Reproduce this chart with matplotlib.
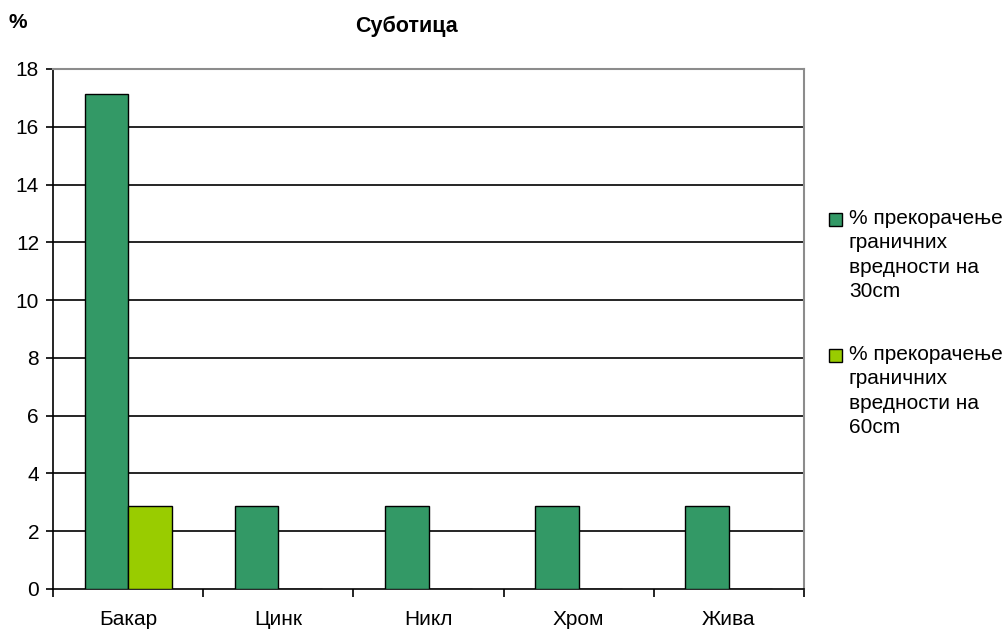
import matplotlib
matplotlib.use("Agg")
import matplotlib.pyplot as plt
from matplotlib.patches import Rectangle
import numpy as np

categories = ["Бакар", "Цинк", "Никл", "Хром", "Жива"]
series_names = ["% прекорачење\nграничних\nвредности на\n30cm",
                "% прекорачење\nграничних\nвредности на\n60cm"]
values_30 = [17.14, 2.86, 2.86, 2.86, 2.86]
values_60 = [2.86, 0, 0, 0, 0]
yticks = [0, 2, 4, 6, 8, 10, 12, 14, 16, 18]
colors = ["#339966", "#99CC00"]

plt.rcParams['font.family'] = ['Liberation Sans', 'DejaVu Sans']

W, H = 1004, 631
fig = plt.figure(figsize=(W/100, H/100), dpi=100)
ax = fig.add_axes([53/W, 1-589/H, (804-53)/W, (589-69)/H])

x = np.arange(len(categories))
w = 0.29
ax.bar(x - w/2, values_30, w, color=colors[0], edgecolor="black", linewidth=1.0,
       label=series_names[0], zorder=3)
ax.bar(x + w/2, values_60, w, color=colors[1], edgecolor="black", linewidth=1.0,
       label=series_names[1], zorder=3)

ax.set_xlim(-0.5, len(categories) - 0.5)
ax.set_ylim(0, 18)
ax.set_yticks(yticks)
ax.set_yticklabels([str(v) for v in yticks], fontsize=15)
for v in yticks[1:-1]:
    ax.axhline(v, color="black", linewidth=1.2, zorder=1)
ax.set_xticks(x)
ax.set_xticklabels(categories, fontsize=15)
ax.tick_params(axis='x', length=0, pad=15)
ax.set_xticks(np.arange(-0.5, len(categories)), minor=True)
ax.tick_params(axis='x', which='minor', length=6, width=1.2, direction='out', color='black')
ax.tick_params(axis='y', length=5, width=1.2, direction='out', pad=5)

for s in ('left', 'bottom'):
    ax.spines[s].set_color('black')
    ax.spines[s].set_linewidth(1.2)
for s in ('top', 'right'):
    ax.spines[s].set_color('#8c8c8c')
    ax.spines[s].set_linewidth(1.5)

fig.text(407/W, 1-26/H, "Суботица", fontsize=15.5, fontweight='bold',
         ha='center', va='center')
fig.text(18/W, 1-22/H, "%", fontsize=15, fontweight='bold',
         ha='center', va='center')

# legend drawn manually (Excel-style: marker aligned with first text line)
leg_tops = [219, 355]
for name, col, yc in zip(series_names, colors, leg_tops):
    fig.patches.append(Rectangle((829/W, 1-(yc+6.5)/H), 13/W, 13/H,
                                 transform=fig.transFigure, facecolor=col,
                                 edgecolor='black', linewidth=1.0))
    fig.text(849/W, 1-(yc-10)/H, name, fontsize=15, ha='left', va='top',
             linespacing=1.36)

fig.savefig("out.png", dpi=100)
